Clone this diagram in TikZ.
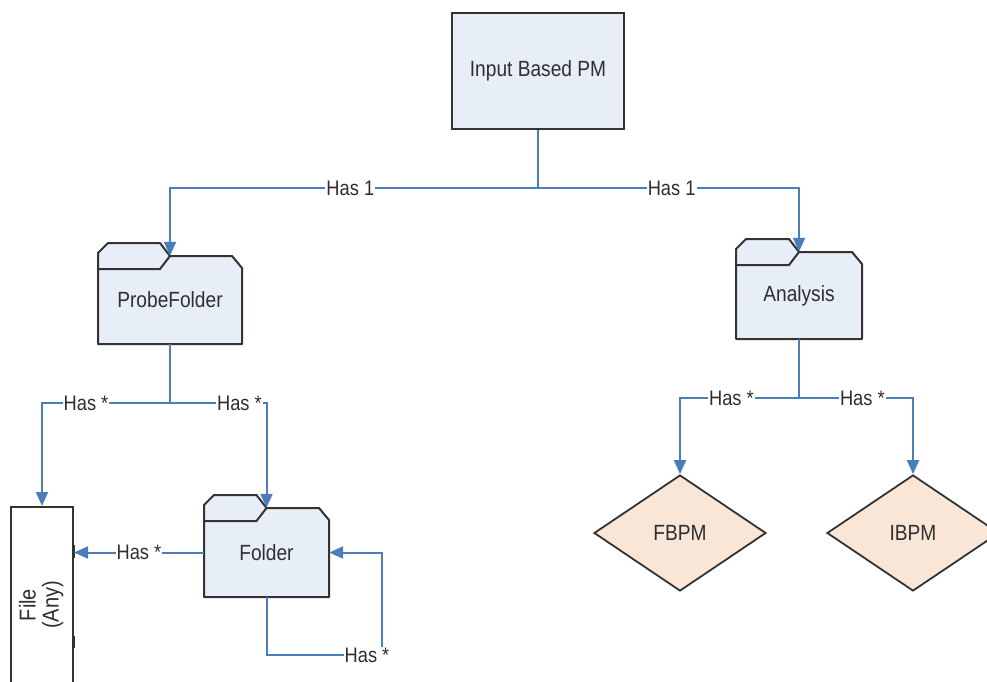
\documentclass[tikz,border=0pt]{standalone}
\usepackage{fontspec}
\setmainfont[FakeStretch=0.87]{Liberation Sans}
\usetikzlibrary{shapes.geometric,arrows.meta}
\definecolor{boxfill}{HTML}{E8EEF8}
\definecolor{dfill}{HTML}{FAE6D6}
\definecolor{edge}{HTML}{333333}
\definecolor{connblue}{HTML}{4A7EBB}
\definecolor{txt}{HTML}{2E2E2E}
\tikzset{
 folderline/.style={fill=boxfill, draw=edge, line width=2pt, line join=round},
 folderedge/.style={draw=edge, line width=2pt},
 fnode/.style={rectangle, inner sep=0, text=txt, font=\fontsize{22}{24}\selectfont},
 boxnode/.style={rectangle, draw=edge, fill=boxfill, line width=2pt, inner sep=0, text=txt, font=\fontsize{22}{24}\selectfont},
 dnode/.style={diamond, draw=edge, fill=dfill, line width=1.8pt, inner sep=0, aspect=1.5, minimum width=172, minimum height=116, text=txt, font=\fontsize{22}{24}\selectfont},
 wire/.style={draw=connblue, line width=2pt},
 arr/.style={wire, -{Triangle[length=14pt,width=12pt]}},
 lbl/.style={fill=white, inner sep=1pt, text=txt, font=\fontsize{21}{24}\selectfont},
}
% name, left, top, right, bottom, text
\newcommand\folderbox[6]{%
 \path[folderline] (#2,#5) -- (#2,#3+10) -- (#2+10,#3) -- ({(#2+#4)/2-10},#3) -- ({(#2+#4)/2},#3+13) -- (#4-10,#3+13) -- (#4,#3+25) -- (#4,#5) -- cycle;
 \draw[folderedge] (#2,#3+26) -- ({(#2+#4)/2-10},#3+26) -- ({(#2+#4)/2},#3+13);
 \node[fnode, minimum width={#4-#2}, minimum height={#5-#3-13}] (#1) at ({(#2+#4)/2},{(#3+13+#5)/2}) {#6};
}
\begin{document}
\begin{tikzpicture}[x=1pt,y=-1pt]
\useasboundingbox (0,0) rectangle (987,681);
\clip (0,0) rectangle (987,681);
\fill[white] (0,0) rectangle (987,681);

% nodes
\node[boxnode, minimum width=172, minimum height=116] (ibpm) at (538,71) {Input Based PM};
\folderbox{probe}{98}{243}{242}{344}{ProbeFolder}
\folderbox{analysis}{736}{239}{862}{339}{Analysis}
\folderbox{folder}{204}{495}{329}{597}{Folder}
\node[boxnode, fill=white, minimum width=62, minimum height=196, font=\fontsize{23}{21}\selectfont] (file) at (42,605)
  {\rotatebox{90}{\begin{tabular}{@{}c@{}}File\\(Any)\end{tabular}}};
\draw[edge, line width=3pt] (73,545) -- (73,558) (73,636) -- (73,648);
\node[dnode] (fbpm) at (680,533) {FBPM};
\node[dnode] (ibpmd) at (913,533) {IBPM};

% junctions
\coordinate (j1) at (538,188);
\coordinate (j2) at (170,403);
\coordinate (j3) at (799,398);
\coordinate (lc) at (382,655);

% connectors
\draw[wire] (ibpm.south) -- (j1);
\draw[arr] (j1) -| node[lbl, pos=0.255] {Has 1} (probe.north);
\draw[arr] (j1) -| node[lbl, pos=0.256] {Has 1} (analysis.north);

\draw[wire] (probe.south) -- (j2);
\draw[arr] (j2) -| node[lbl, pos=0.328] {Has *} (file.north);
\draw[arr] (j2) -| node[lbl, pos=0.36] {Has *} (folder.north);

\draw[arr] (folder.west) -- node[lbl] {Has *} (folder.west -| file.east);
\draw[arr] (folder.south) |- node[lbl, pos=0.935] {Has *} (lc) |- (folder.east);

\draw[wire] (analysis.south) -- (j3);
\draw[arr] (j3) -| node[lbl, pos=0.284] {Has *} (fbpm.north);
\draw[arr] (j3) -| node[lbl, pos=0.278] {Has *} (ibpmd.north);
\end{tikzpicture}
\end{document}
